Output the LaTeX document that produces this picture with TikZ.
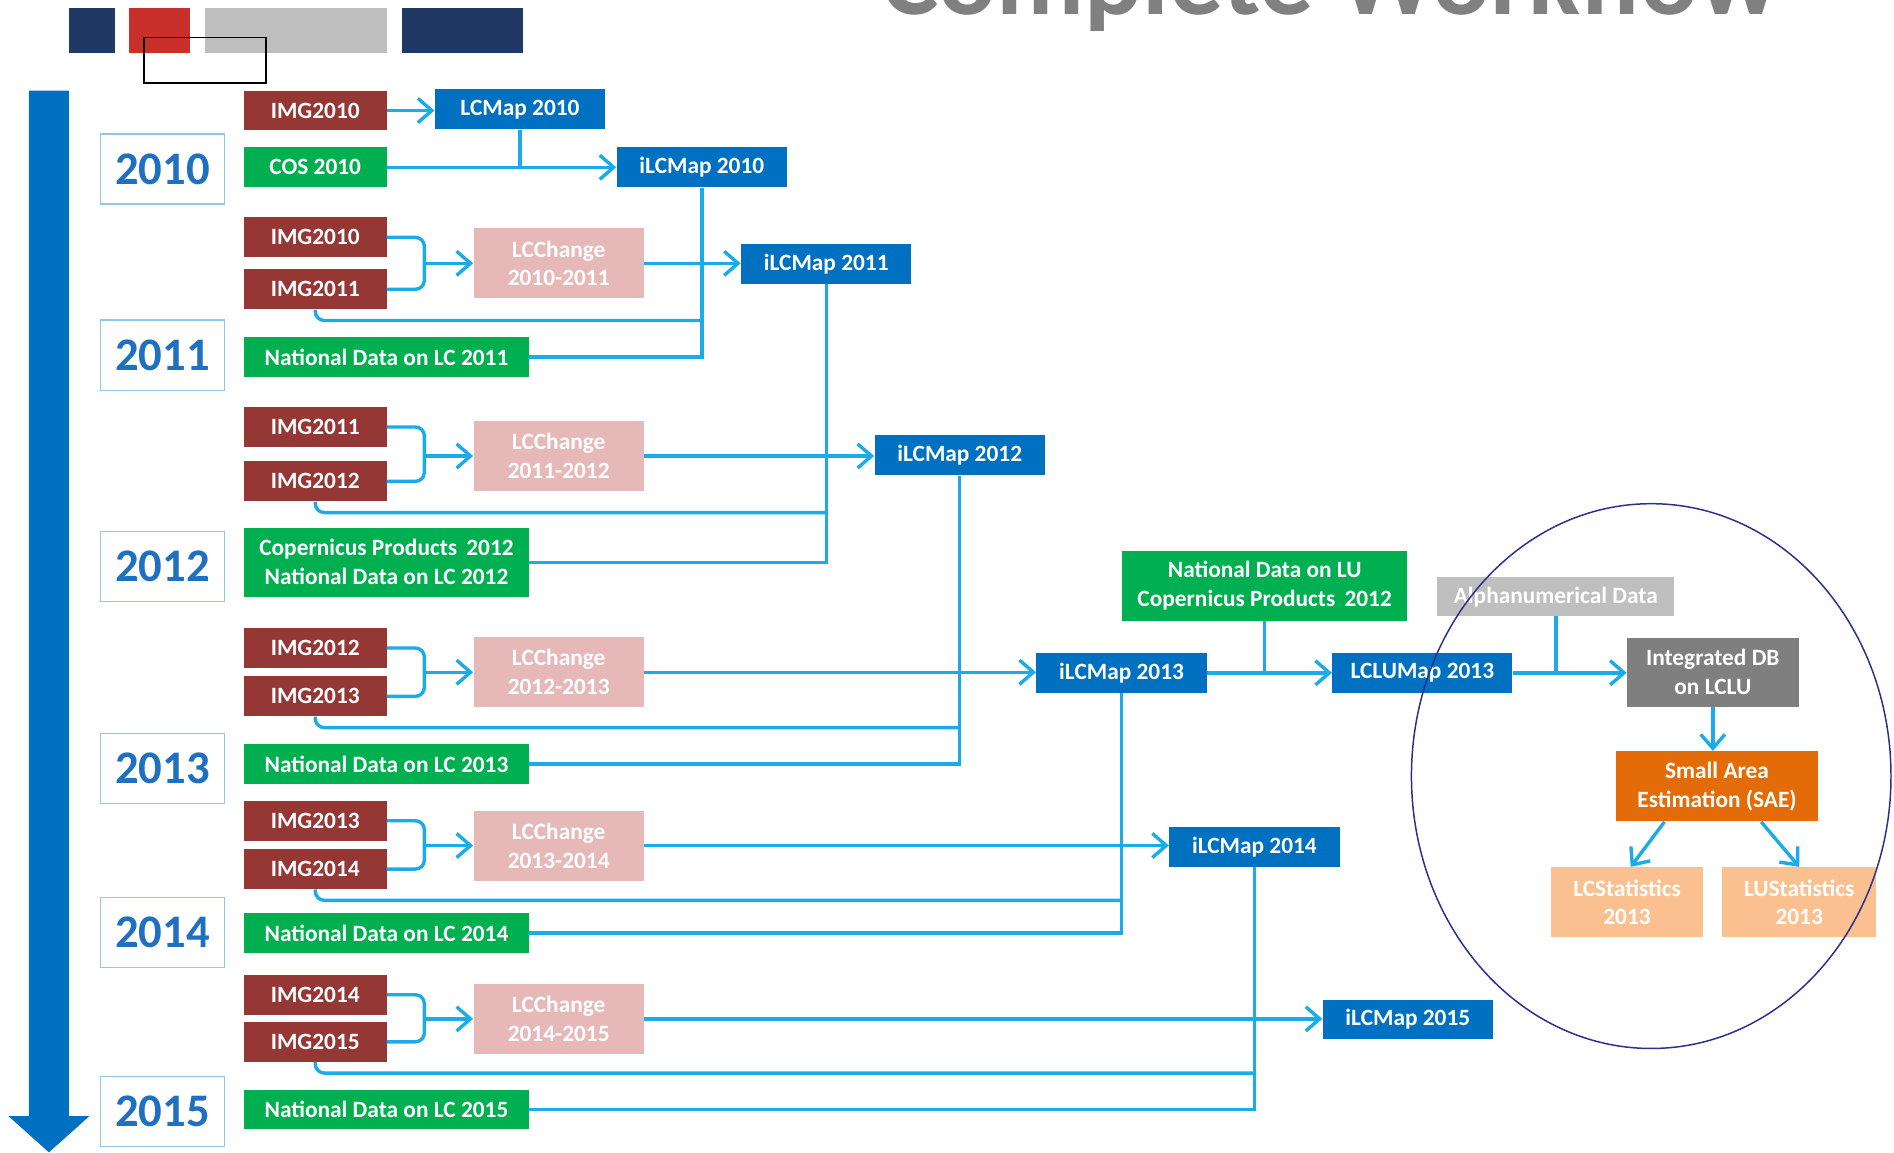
\documentclass[tikz,border=0pt]{standalone}
\usepackage{fontspec}
\setmainfont{Carlito}
\usetikzlibrary{arrows.meta,positioning}
\definecolor{imgred}{HTML}{953735}
\definecolor{srcgreen}{HTML}{00B050}
\definecolor{mapblue}{HTML}{0070C0}
\definecolor{yearblue}{HTML}{1F70C1}
\definecolor{chgpink}{HTML}{E6B9B8}
\definecolor{flowcyan}{HTML}{1AABE8}
\definecolor{yearframe}{HTML}{92C5EA}
\definecolor{alphagray}{HTML}{BFBFBF}
\definecolor{dbgray}{HTML}{7F7F7F}
\definecolor{saeorange}{HTML}{E36C09}
\definecolor{statpeach}{HTML}{FAC090}
\definecolor{headnavy}{HTML}{1F3864}
\definecolor{headred}{HTML}{C9302C}
\definecolor{ringnavy}{HTML}{2B2F8F}
\definecolor{titlegray}{HTML}{808080}

\begin{document}
\begin{tikzpicture}[
  x=0.2mm, y=-0.2mm,
  >={Straight Barb[length=2.3mm,width=4mm]},
  box/.style={inner sep=1pt, text=white, align=center,
              font=\bfseries\fontsize{11}{13.6}\selectfont,
              minimum height=6.6mm},
  img/.style={box, fill=imgred, minimum width=23.6mm},
  src/.style={box, fill=srcgreen, minimum width=23.6mm},
  natsrc/.style={box, fill=srcgreen, minimum width=47.2mm},
  map/.style={box, fill=mapblue, minimum width=28.2mm},
  chg/.style={box, fill=chgpink, minimum width=28.2mm, minimum height=11.6mm},
  yearbox/.style={draw=yearframe, line width=0.6pt, minimum width=20.6mm,
                  minimum height=11.6mm, text=yearblue,
                  font=\bfseries\fontsize{22}{26}\selectfont},
  flow/.style={draw=flowcyan, line width=1.6pt},
  elbow/.style={flow, rounded corners=1.5mm},
]
\useasboundingbox (0,0) rectangle (1568,954);

% --- Header strip and title ---
\fill[headnavy] (57,7) rectangle (95,44);
\fill[headred]  (107,7) rectangle (157,44);
\fill[alphagray] (170,7) rectangle (320,44);
\fill[headnavy] (333,7) rectangle (433,44);
\draw[black, line width=0.85pt] (119,31) rectangle (220,69);
\node[anchor=base west, inner sep=0pt, text=titlegray,
      font=\bfseries\fontsize{51}{57}\selectfont] (ttl) at (729,12) {Complete Workflow};

% --- Time axis ---
\fill[mapblue] (24,75) -- (57,75) -- (57,924) -- (74,924) -- (40.5,954)
               -- (7,924) -- (24,924) -- cycle;
\node[yearbox] (y10) at (134.5,140) {2010};
\node[yearbox] (y11) at (134.5,294) {2011};
\node[yearbox] (y12) at (134.5,469) {2012};
\node[yearbox] (y13) at (134.5,636) {2013};
\node[yearbox] (y14) at (134.5,772) {2014};
\node[yearbox] (y15) at (134.5,920) {2015};

% --- 2010 ---
\node[img] (i10a) at (261,91.5)  {IMG2010};
\node[src] (c10)  at (261,138.5) {COS 2010};
\node[map] (l10)  at (430.5,90.5) {LCMap 2010};
\node[map] (m10)  at (581,138.5) {iLCMap 2010};
\draw[flow,->] (i10a.east) -- (i10a.east -| l10.west);
\draw[flow,->] (c10.east) -- (c10.east -| m10.west);
\draw[flow] (l10.south) -- (l10.south |- c10.east);

% --- 2011 ---
\node[img]    (i10b)  at (261,196.5) {IMG2010};
\node[img]    (i11a)  at (261,239.5) {IMG2011};
\node[chg]    (c1011) at (462.5,218) {LCChange\\2010-2011};
\node[map]    (m11)   at (684,218.5) {iLCMap 2011};
\node[natsrc] (n11)   at (320,295.5) {National Data on LC 2011};
\coordinate[right=6.2mm of i11a.east] (k11);
\coordinate[below=1.8mm of i11a.south] (d11);
\draw[elbow] (i10b.east) -| (k11) -- (i11a.east);
\draw[flow,->] (k11 |- c1011.west) -- (c1011.west);
\draw[flow,->] (c1011.east) -- (c1011.east -| m11.west);
\draw[flow] (m10.south) |- (n11.east);
\draw[elbow] (i11a.south) |- (d11 -| m10.south);

% --- 2012 ---
\node[img]    (i11b)  at (261,353.5) {IMG2011};
\node[img]    (i12a)  at (261,398.5) {IMG2012};
\node[chg]    (c1112) at (462.5,377.5) {LCChange\\2011-2012};
\node[map]    (m12)   at (794.5,377) {iLCMap 2012};
\node[natsrc, minimum height=11.4mm] (n12) at (320,465.5)
      {Copernicus Products\, 2012\\National Data on LC 2012};
\coordinate[right=6.2mm of i12a.east] (k12);
\coordinate[below=1.8mm of i12a.south] (d12);
\draw[elbow] (i11b.east) -| (k12) -- (i12a.east);
\draw[flow,->] (k12 |- c1112.west) -- (c1112.west);
\draw[flow,->] (c1112.east) -- (c1112.east -| m12.west);
\draw[flow] (m11.south) |- (n12.east);
\draw[elbow] (i12a.south) |- (d12 -| m11.south);

% --- 2013 ---
\node[img]    (i12b)  at (261,536.5) {IMG2012};
\node[img]    (i13a)  at (261,576.5) {IMG2013};
\node[chg]    (c1213) at (462.5,556.5) {LCChange\\2012-2013};
\node[map]    (m13)   at (928.5,557) {iLCMap 2013};
\node[natsrc] (n13)   at (320,632.5) {National Data on LC 2013};
\coordinate[right=6.2mm of i13a.east] (k13);
\coordinate[below=1.8mm of i13a.south] (d13);
\draw[elbow] (i12b.east) -| (k13) -- (i13a.east);
\draw[flow,->] (k13 |- c1213.west) -- (c1213.west);
\draw[flow,->] (c1213.east) -- (c1213.east -| m13.west);
\draw[flow] (m12.south) |- (n13.east);
\draw[elbow] (i13a.south) |- (d13 -| m12.south);

% --- LCLU branch ---
\node[natsrc, minimum height=11.6mm] (lu) at (1047,485)
      {National Data on LU\\Copernicus Products\, 2012};
\node[map, minimum width=29.8mm] (lclu) at (1177.5,557) {LCLUMap 2013};
\node[box, fill=alphagray, minimum width=39.2mm, minimum height=6.4mm]
      (alpha) at (1288,494) {Alphanumerical Data};
\node[box, fill=dbgray, minimum width=28.4mm, minimum height=11.4mm]
      (db) at (1418,556.5) {Integrated DB\\on LCLU};
\node[box, fill=saeorange, minimum width=33.4mm, minimum height=11.6mm]
      (sae) at (1421.5,651) {Small Area\\Estimation (SAE)};
\node[box, fill=statpeach, minimum width=25.2mm, minimum height=11.6mm]
      (lcs) at (1347,747) {LCStatistics\\2013};
\node[box, fill=statpeach, minimum width=25.4mm, minimum height=11.6mm]
      (lus) at (1489.5,747) {LUStatistics\\2013};
\draw[flow,->] (m13.east) -- (m13.east -| lclu.west);
\draw[flow] (lu.south) -- (lu.south |- m13.east);
\draw[flow,->] (lclu.east) -- (lclu.east -| db.west);
\draw[flow] (alpha.south) -- (alpha.south |- lclu.east);
\draw[flow,->] (db.south) -- (db.south |- sae.north);
\draw[flow,->] ([xshift=-8.7mm]sae.south) -- ([xshift=0.6mm]lcs.north);
\draw[flow,->] ([xshift=7.3mm]sae.south) -- (lus.north);

% --- 2014 ---
\node[img]    (i13b)  at (261,679.5) {IMG2013};
\node[img]    (i14a)  at (261,719.5) {IMG2014};
\node[chg]    (c1314) at (462.5,700) {LCChange\\2013-2014};
\node[map]    (m14)   at (1038.5,701) {iLCMap 2014};
\node[natsrc] (n14)   at (320,772.5) {National Data on LC 2014};
\coordinate[right=6.2mm of i14a.east] (k14);
\coordinate[below=1.8mm of i14a.south] (d14);
\draw[elbow] (i13b.east) -| (k14) -- (i14a.east);
\draw[flow,->] (k14 |- c1314.west) -- (c1314.west);
\draw[flow,->] (c1314.east) -- (c1314.east -| m14.west);
\draw[flow] (m13.south) |- (n14.east);
\draw[elbow] (i14a.south) |- (d14 -| m13.south);

% --- 2015 ---
\node[img]    (i14b)  at (261,823.5) {IMG2014};
\node[img]    (i15)   at (261,862.5) {IMG2015};
\node[chg]    (c1415) at (462.5,843.5) {LCChange\\2014-2015};
\node[map]    (m15)   at (1165.5,844) {iLCMap 2015};
\node[natsrc] (n15)   at (320,918.5) {National Data on LC 2015};
\coordinate[right=6.2mm of i15.east] (k15);
\coordinate[below=1.8mm of i15.south] (d15);
\draw[elbow] (i14b.east) -| (k15) -- (i15.east);
\draw[flow,->] (k15 |- c1415.west) -- (c1415.west);
\draw[flow,->] (c1415.east) -- (c1415.east -| m15.west);
\draw[flow] (m14.south) |- (n15.east);
\draw[elbow] (i15.south) |- (d15 -| m14.south);

% --- Statistics ring ---
\draw[ringnavy, line width=0.7pt] (1367,642.5) ellipse [x radius=39.7mm, y radius=45.1mm];
\end{tikzpicture}
\end{document}
